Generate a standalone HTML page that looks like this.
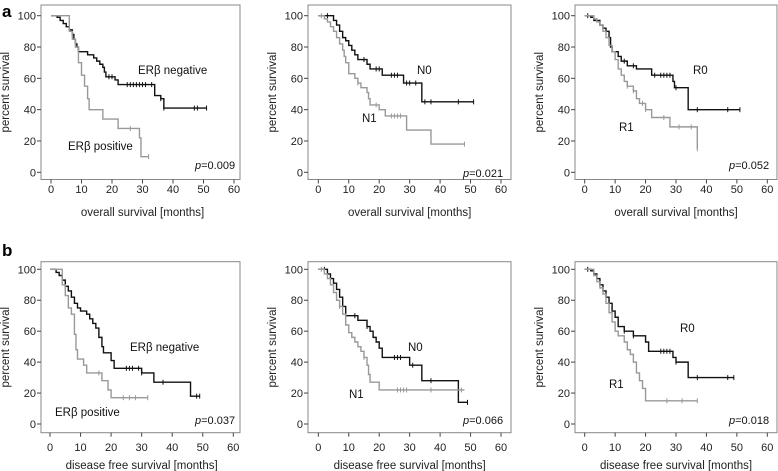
<!DOCTYPE html>
<html><head><meta charset="utf-8"><style>
html,body{margin:0;padding:0;background:#fff;}
svg{display:block;font-family:"Liberation Sans",Arial,sans-serif;}
</style></head><body>
<svg id="fig" width="778" height="471" viewBox="0 0 778 471">
<text x="2" y="17" font-size="17" font-weight="bold">a</text>
<text x="2" y="256" font-size="17" font-weight="bold">b</text>
</svg>
<script>
const xTicks = [0,10,20,30,40,50,60];
const yTicks = [0,20,40,60,80,100];
// panel a1: ER beta
const a1Neg = [[0,100],[2,99],[3,97],[4,95],[5,93],[6,91],[7,88],[7.5,85],[8,82],[8.5,80],[9,77],[12,75],[14,73],[15,71],[16,69],[17,67],[17.5,64],[18,61],[21,59],[22,56],[34,49],[36,47],[37,41],[51,41]];
const a1NegC = [19,20,25,26,27,28,29,30,31,33,36,37,47,48,51];
const a1Pos = [[0,100],[6,90],[7,85],[8,80],[9,70],[10,62],[11,55],[12,47],[12.5,40],[17,34],[22,28],[29,22],[29.5,10],[32,10]];
const a1PosC = [26,32];
// panel a2: N
const a2N0 = [[0,100],[5,97],[6,94],[7,90],[8,86],[9,84],[10,81],[11,78],[12,75],[13,72],[16,69],[17,66],[21,62],[28,57],[34,45],[51,45]];
const a2N0C = [3,15,19,20,24,25,26,29,30,32,35,37,46,51];
const a2N1 = [[0,100],[2,98],[3,96],[4,93],[5,90],[6,86],[7,82],[8,78],[8.5,74],[9,70],[10,63],[12,60],[13,57],[14,54],[16,51],[16.5,47],[17,43],[20,40],[22,36],[29,27],[37,18],[48,18]];
const a2N1C = [1,13,19,24,25,26,27,48];
// panel a3: R
const a3R0 = [[0,100],[2,99],[3,97],[5,94],[6,92],[7,90],[8,86],[8.5,80],[9,77],[11,74],[12,71],[14,68],[17,66],[22,62],[29,58],[29.5,54],[34,40],[51,40]];
const a3R0C = [1,13,16,23,25,26,27,28,30,37,47,51];
const a3R1 = [[0,100],[3,98],[4,96],[5,94],[6,90],[7,86],[8,81],[9,77],[10,72],[11,66],[12,62],[13,58],[14,55],[16,52],[17,47],[18,44],[20,40],[22,35],[28,29],[37,15],[37,15]];
const a3R1C = [14,16,19,20,26,31,35,37];
// panel b1
const b1Neg = [[0,100],[2,98],[3,96],[4,93],[5,89],[6,86],[7,82],[8,78],[9,75],[10,73],[12,71],[13,68],[14,65],[15,62],[16,56],[17,50],[17.5,46],[20,41],[21,36],[30,33],[34,27],[46,18],[49,18]];
const b1NegC = [25,26,27,29,30,37,48,49];
const b1Pos = [[0,100],[4,90],[5,83],[6,75],[7,71],[8,58],[8.5,48],[9,42],[11,38],[12,33],[17,28],[19,22],[20,17],[32,17]];
const b1PosC = [16,24,26,28,32];
// panel b2
const b2N0 = [[0,100],[3,97],[4,94],[5,91],[6,87],[7,82],[8,76],[9,70],[13,67],[16,63],[17,60],[18,56],[19,53],[20,49],[21,43],[30,38],[34,28],[46,14],[49,14]];
const b2N0C = [2,12,16,25,26,27,31,37,49];
const b2N1 = [[0,100],[2,97],[3,94],[4,90],[5,85],[6,80],[7,76],[8,71],[9,64],[10,59],[11,56],[12,53],[13,50],[14,47],[15,43],[16,38],[16.5,32],[17,27],[20,22],[48,22]];
const b2N1C = [1,7,15,26,27,28,29,37,47];
// panel b3
const b3R0 = [[0,100],[2,99],[3,97],[4,94],[5,90],[6,86],[7,82],[8,78],[9,73],[10,69],[11,63],[13,60],[16,57],[20,53],[21,47],[29,43],[30,40],[34,30],[49,30]];
const b3R0C = [1,13,16,25,26,27,28,30,37,47,49];
const b3R1 = [[0,100],[3,96],[4,92],[5,88],[6,84],[7,78],[8,72],[9,66],[10,60],[11,57],[13,53],[14,48],[15,45],[16,40],[17,33],[18,28],[19,23],[20,15],[37,15]];
const b3R1C = [27,32,37];

const NS='http://www.w3.org/2000/svg';
const svg=document.getElementById('fig');
function mk(tag,attrs,parent){const e=document.createElementNS(NS,tag);for(const k in attrs)e.setAttribute(k,attrs[k]);(parent||svg).appendChild(e);return e;}

const panels=[
 {id:'a1',L:41,R:240,T:5,B:179.5,x0:51,x60:234,y100:15.7,y0:172.3,xl:'overall survival [months]',tl:193,xlY:216,
  series:[[a1Neg,a1NegC,'#111'],[a1Pos,a1PosC,'#999']],
  labels:[['ERβ negative',138,74],['ERβ positive',68,150]],p:['0.009',195,169]},
 {id:'a2',L:308,R:511,T:5,B:179.5,x0:318.3,x60:501,y100:15.7,y0:172.3,xl:'overall survival [months]',tl:193,xlY:216,
  series:[[a2N0,a2N0C,'#111'],[a2N1,a2N1C,'#999']],
  labels:[['N0',417,74],['N1',362,122]],p:['0.021',463,177]},
 {id:'a3',L:575,R:777,T:5,B:179.5,x0:584.7,x60:767.3,y100:15.7,y0:172.3,xl:'overall survival [months]',tl:193,xlY:216,
  series:[[a3R0,a3R0C,'#111'],[a3R1,a3R1C,'#999']],
  labels:[['R0',693,74],['R1',619,131]],p:['0.052',729,169]},
 {id:'b1',L:41,R:240,T:261.7,B:432.7,x0:50,x60:233.3,y100:269.3,y0:424,xl:'disease free survival [months]',tl:451,xlY:469,
  series:[[b1Neg,b1NegC,'#111'],[b1Pos,b1PosC,'#999']],
  labels:[['ERβ negative',130,351],['ERβ positive',55,416]],p:['0.037',195,424]},
 {id:'b2',L:308,R:511,T:261.7,B:432.7,x0:318.3,x60:501,y100:269.3,y0:424,xl:'disease free survival [months]',tl:451,xlY:469,
  series:[[b2N0,b2N0C,'#111'],[b2N1,b2N1C,'#999']],
  labels:[['N0',408,351],['N1',349,398]],p:['0.066',463,424]},
 {id:'b3',L:575,R:777,T:261.7,B:432.7,x0:584.7,x60:767.3,y100:269.3,y0:424,xl:'disease free survival [months]',tl:451,xlY:469,
  series:[[b3R0,b3R0C,'#111'],[b3R1,b3R1C,'#999']],
  labels:[['R0',680,332],['R1',609,388]],p:['0.018',729,424]}
];

panels.forEach(P=>{
  const g=mk('g',{});
  
  
  const sx=v=>P.x0+(P.x60-P.x0)*v/60;
  const sy=v=>P.y0+(P.y100-P.y0)*v/100;
  const box=mk('rect',{x:P.L,y:P.T,width:P.R-P.L,height:P.B-P.T,fill:'none',stroke:'#888','stroke-width':1},g);
  
  
  yTicks.forEach(t=>{
    mk('line',{x1:P.L-4,x2:P.L,y1:sy(t),y2:sy(t),stroke:'#444'},g);
    const tx=mk('text',{x:P.L-5,y:sy(t)+4,'font-size':11,'text-anchor':'end',fill:'#222'},g);
    tx.textContent=t;
    
    
  });
  xTicks.forEach(t=>{
    mk('line',{x1:sx(t),x2:sx(t),y1:P.B,y2:P.B+4,stroke:'#444'},g);
    const tx=mk('text',{x:sx(t),y:P.tl,'font-size':11,'text-anchor':'middle',fill:'#222'},g);
    tx.textContent=t;
    
    
  });
  const xl=mk('text',{x:(P.x0+P.x60)/2,y:P.xlY,'font-size':11.5,'text-anchor':'middle',fill:'#222'},g);
  xl.textContent=P.xl;
  
  
  const cy=(P.T+P.B)/2, cx=P.L-32;
  const yl=mk('text',{x:cx,y:cy,'font-size':11.5,'text-anchor':'middle',fill:'#222',transform:`rotate(-90 ${cx} ${cy})`},g);
  yl.textContent='percent survival';
  
  
  P.series.forEach(([pts,cens,col],si)=>{
    let d=`M${sx(pts[0][0])},${sy(pts[0][1])}`;
    for(let i=1;i<pts.length;i++){d+=`H${sx(pts[i][0])}V${sy(pts[i][1])}`;}
    const path=mk('path',{d:d,fill:'none',stroke:col,'stroke-width':1.4},g);
    
    
    cens.forEach(c=>{
      let s=pts[0][1];
      for(const p of pts){if(p[0]<=c)s=p[1];}
      const m=mk('line',{x1:sx(c),x2:sx(c),y1:sy(s)-2.5,y2:sy(s)+2.5,stroke:col,'stroke-width':1},g);
      
      
    });
  });
  P.labels.forEach(([t,x,y])=>{
    const tx=mk('text',{x:x,y:y,'font-size':11.5,fill:'#111'},g);
    tx.textContent=t;
    
    
  });
  const pt=mk('text',{x:P.p[1],y:P.p[2],'font-size':11,fill:'#111'},g);
  pt.innerHTML='<tspan font-style="italic">p</tspan>='+P.p[0];
  
  
});
</script>
</body></html>
